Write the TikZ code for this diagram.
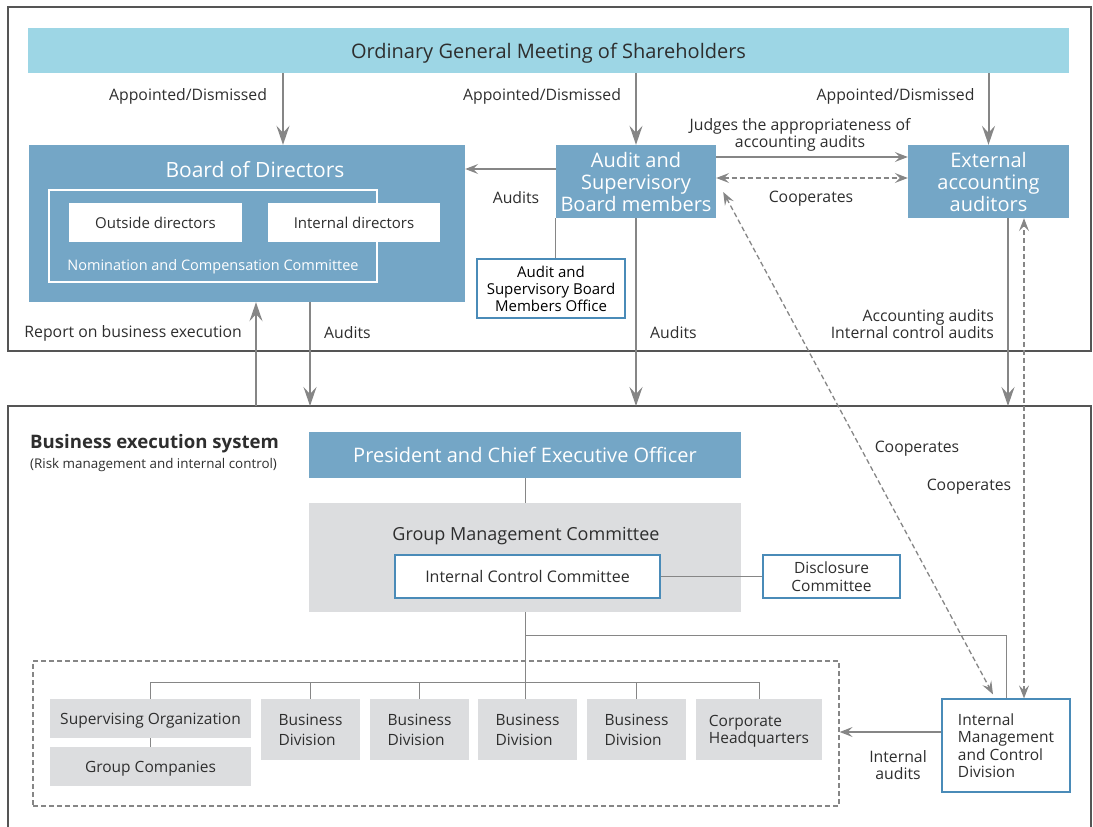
\documentclass[tikz,border=0pt]{standalone}
\usepackage{fontspec}
\setmainfont{Open Sans}
\usetikzlibrary{arrows.meta}

\definecolor{shareblue}{HTML}{9DD6E5}
\definecolor{boxblue}{HTML}{74A6C6}
\definecolor{boxgray}{HTML}{DCDDDF}
\definecolor{linegray}{HTML}{868686}
\definecolor{framegray}{HTML}{555555}
\definecolor{edgeblue}{HTML}{4A8BB8}
\definecolor{textdark}{HTML}{2E2E2E}
\newcommand\fsz[2]{\fontsize{#1}{#2}\selectfont}

\begin{document}
\begin{tikzpicture}[x=1pt, y=-1pt,
  every node/.style={text=textdark, inner sep=0pt},
  sz/.style 2 args={minimum width=#1pt, minimum height=#2pt},
  bluebox/.style={fill=boxblue, text=white, align=center, text depth=0pt},
  graybox/.style={fill=boxgray, align=center, text depth=0pt},
  whitebox/.style={fill=white, draw=edgeblue, line width=1.2pt, align=center, text depth=0pt},
  lab/.style={font=\fsz{15.8}{17}, align=center, yshift=-2pt},
  arr/.style={draw=linegray, line width=2pt, -{Stealth[length=19pt,width=13pt,inset=7pt]}},
  harr/.style={draw=linegray, line width=1.3pt, -{Stealth[length=13pt,width=10pt,inset=5pt]}},
  darr/.style={draw=linegray, line width=1.3pt, dash pattern=on 5pt off 3pt,
    {Stealth[length=13pt,width=10pt,inset=5pt]}-{Stealth[length=13pt,width=10pt,inset=5pt]}},
  tree/.style={draw=linegray, line width=1pt},
  frame/.style={draw=framegray, line width=1.3pt}]

\useasboundingbox (0,0) rectangle (1093,827);

% Frames
\draw[frame] (8,7) rectangle (1091,351);
\draw[frame] (8,840) -- (8,406) -- (1091,406) -- (1091,840);
\coordinate (exectop) at (0,406);

% Helper columns and rows
\coordinate (colA) at (283,0);
\coordinate (colB) at (256,0);
\coordinate (colC) at (310,0);
\coordinate (colD) at (1008,0);
\coordinate (colE) at (1024,0);
\coordinate (rowA) at (0,169);
\coordinate (rowB) at (0,157);
\coordinate (rowC) at (0,178);
\coordinate (rowD) at (0,732);
\coordinate (split) at (0,682);

% Shareholders
\node[fill=shareblue, sz={1041}{45}, text depth=0pt, font=\fsz{20}{22}] (meeting) at (548.5,50.5) {Ordinary General Meeting of Shareholders};

% Board of Directors
\node[bluebox, sz={436}{157}] (board) at (247,223.5) {};
\node[text=white, font=\fsz{21}{23}] (boardtitle) at (255,169.5) {Board of Directors};
\node[draw=white, line width=1.5pt, sz={328}{92}] (nomframe) at (213,236) {};
\node[fill=white, sz={173}{39}, text depth=0pt, font=\fsz{15}{17}] (outside) at (155.5,222.5) {Outside directors};
\node[fill=white, sz={172}{39}, text depth=0pt, font=\fsz{15}{17}] (internal) at (354,222.5) {Internal directors};
\node[text=white, font=\fsz{14.5}{16}] (nomtext) at (213,266.5) {Nomination and Compensation Committee};

% Audit side
\node[bluebox, sz={160}{73}, font=\fsz{20}{22}] (audit) at (636,181.5) {Audit and\\Supervisory\\Board members};
\node[bluebox, sz={161}{73}, font=\fsz{20}{22}] (external) at (988.5,181.5) {External\\accounting\\auditors};
\node[whitebox, sz={148}{59}, font=\fsz{15}{17}, text=black] (office) at (551,288.5) {Audit and\\Supervisory Board\\Members Office};
\draw[tree] (audit.south west) -- (audit.south west |- office.north);

% Appointments
\draw[arr] (meeting.south -| colA) -- (board.north -| colA)
  node[lab, pos=0.3, anchor=east, xshift=-15pt] {Appointed/Dismissed};
\draw[arr] (meeting.south -| audit.north) -- (audit.north)
  node[lab, pos=0.3, anchor=east, xshift=-14pt] {Appointed/Dismissed};
\draw[arr] (meeting.south -| external.north) -- (external.north)
  node[lab, pos=0.3, anchor=east, xshift=-13pt] {Appointed/Dismissed};

% Audit relations
\draw[harr] (audit.west |- rowA) -- (board.east |- rowA);
\node[lab] (auditslbl) at (516,196) {Audits};
\draw[harr] (audit.east |- rowB) -- (external.west |- rowB);
\node[lab] (judgelbl) at (800,132.5) {Judges the appropriateness of\\accounting audits};
\draw[darr] (audit.east |- rowC) -- (external.west |- rowC);
\node[lab] (coopA) at (811,197) {Cooperates};

% Business execution system
\node[anchor=west, font=\bfseries\fsz{18.6}{20}] (bestitle) at (30,444) {Business execution system};
\node[anchor=west, font=\fsz{13.4}{15}] (besnote) at (30,465.5) {(Risk management and internal control)};

\node[bluebox, sz={432}{46}, font=\fsz{20}{22}] (ceo) at (525,455) {President and Chief Executive Officer};
\node[graybox, sz={432}{109}] (gmc) at (525,557.5) {};
\node[font=\fsz{18}{20}] (gmctitle) at (526,536.5) {Group Management Committee};
\node[whitebox, sz={265}{43}, font=\fsz{16}{18}] (icc) at (527.5,576.5) {Internal Control Committee};
\node[whitebox, sz={137}{43}, font=\fsz{15.5}{18}] (disclosure) at (831.5,576.5) {Disclosure\\Committee};

% Group organizations
\node[draw=linegray, line width=1.3pt, dash pattern=on 5pt off 3pt, sz={806}{145}] (groupbox) at (436,733.5) {};
\node[graybox, sz={201}{39}, font=\fsz{15.5}{17}] (superv) at (150.5,718.5) {Supervising Organization};
\node[graybox, sz={201}{39}, font=\fsz{15.5}{17}] (groupco) at (150.5,766.5) {Group Companies};
\foreach \n/\x in {bd1/310.5, bd2/419.5, bd3/527.5, bd4/636.5}
  \node[graybox, sz={99}{61}, align=left, font=\fsz{15.5}{20}] (\n) at (\x,729.5) {Business\\Division};
\node[graybox, sz={126}{61}, align=left, font=\fsz{15.5}{17}] (chq) at (759,729.5) {Corporate\\Headquarters};
\node[whitebox, sz={128}{93}, align=left, font=\fsz{15.5}{17.5}] (imcd) at (1006,745.5) {Internal\\Management\\and Control\\Division};

% Tree lines
\draw[tree] (ceo.south) -- (gmc.north);
\draw[tree] (icc.east) -- (disclosure.west);
\draw[tree] (gmc.south) -- (gmc.south |- bd3.north);
\path (gmc.south) ++(0,23) coordinate (fork);
\draw[tree] (fork) -| (imcd.north);
\draw[tree] (superv.north) -- (superv.north |- split) -| (chq.north);
\foreach \n in {bd1,bd2,bd4}
  \draw[tree] (\n.north) -- (\n.north |- split);
\draw[tree] (superv.south) -- (groupco.north);

% Reporting and audits across
\draw[arr] (exectop -| colB) -- (board.south -| colB);
\node[lab, anchor=east] (reportlbl) at (242,331) {Report on business execution};
\draw[arr] (board.south -| colC) -- (exectop -| colC);
\node[lab, anchor=west] (auditsB) at (324,331) {Audits};
\draw[arr] (audit.south) -- (exectop -| audit.south);
\node[lab, anchor=west] (auditsC) at (650,331) {Audits};
\draw[arr] (external.south -| colD) -- (exectop -| colD);
\node[lab, anchor=east, align=right] (acclbl) at (994,322.5) {Accounting audits\\Internal control audits};

% Cooperation with internal management
\draw[darr] (imcd.north -| colE) -- (external.south -| colE);
\draw[darr] ([shift={(7pt,-10.5pt)}]audit.east) -- ([shift={(-13pt,4pt)}]imcd.north);
\node[lab] (coopB) at (917,447) {Cooperates};
\node[lab] (coopC) at (969,485) {Cooperates};

% Internal audits
\draw[harr] (imcd.west |- rowD) -- (groupbox.east |- rowD);
\node[lab] (intlbl) at (898,763.5) {Internal\\audits};

\end{tikzpicture}
\end{document}
